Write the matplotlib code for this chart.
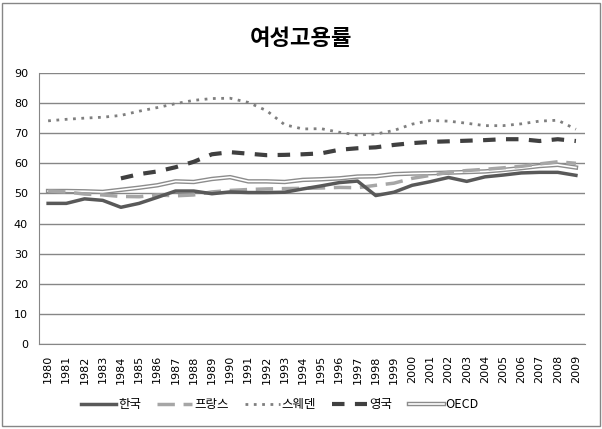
import matplotlib
matplotlib.use("Agg")
import matplotlib.pyplot as plt
from matplotlib.patches import Rectangle
from matplotlib.lines import Line2D
import numpy as np

plt.rcParams['font.family'] = ['Noto Sans CJK KR', 'DejaVu Sans']

years = [str(y) for y in range(1980, 2010)]

korea = [46.7, 46.7, 48.2, 47.7, 45.4, 46.7, 48.7, 50.8, 50.8, 49.9,
         50.5, 50.3, 50.3, 50.4, 51.5, 52.5, 53.6, 54.1, 49.3, 50.4,
         52.7, 53.9, 55.3, 54.0, 55.5, 56.1, 56.8, 57.0, 57.0, 56.0]
france = [50.8, 50.5, 49.8, 49.5, 49.0, 48.9, 49.5, 49.2, 49.5, 50.5,
          51.0, 51.3, 51.5, 51.6, 51.7, 51.8, 52.0, 51.9, 52.7, 53.4,
          55.0, 56.0, 57.0, 57.6, 58.0, 58.5, 59.0, 59.8, 60.5, 60.0]
sweden = [74.1, 74.6, 75.0, 75.3, 75.9, 77.3, 78.5, 79.8, 80.9, 81.5,
          81.6, 80.2, 77.5, 72.8, 71.4, 71.5, 70.3, 69.4, 69.7, 70.9,
          73.0, 74.2, 74.0, 73.3, 72.5, 72.5, 73.1, 74.0, 74.3, 71.3]
uk = [None, None, None, None, 55.0, 56.4, 57.3, 58.7, 60.5, 63.0,
      63.7, 63.2, 62.7, 62.8, 63.0, 63.3, 64.5, 65.0, 65.3, 66.1,
      66.7, 67.1, 67.3, 67.5, 67.7, 68.0, 68.0, 67.4, 68.0, 67.4]
oecd = [50.8, 50.8, 50.7, 50.5, 51.2, 51.9, 52.7, 54.0, 53.8, 54.8,
        55.4, 54.0, 54.0, 53.8, 54.5, 54.7, 55.0, 55.6, 55.7, 56.4,
        56.6, 56.7, 56.9, 57.1, 57.3, 57.8, 58.4, 59.1, 59.5, 58.6]

yticks = list(range(0, 91, 10))

fig = plt.figure(figsize=(6.02, 4.29), dpi=100)
ax = fig.add_axes([0.0648, 0.198, 0.907, 0.632])

x = np.arange(len(years))
uk_arr = np.array([np.nan if v is None else v for v in uk])

ax.plot(x, korea, color="#595959", lw=2.5, label="한국", zorder=4)
ax.plot(x, france, color="#a6a6a6", lw=2.5, dashes=(5, 2.5), label="프랑스", zorder=3)
ax.plot(x, sweden, color="#7f7f7f", lw=2, linestyle=(0, (1, 2)), label="스웨덴", zorder=3)
ax.plot(x, uk_arr, color="#404040", lw=3, dashes=(3, 2.5), label="영국", zorder=3)
ax.plot(x, oecd, color="#8c8c8c", lw=3.2, zorder=2)
ax.plot(x, oecd, color="white", lw=1.2, zorder=2)

# double line in the legend
h, l = ax.get_legend_handles_labels()
h.append((Line2D([], [], color="#8c8c8c", lw=3.2), Line2D([], [], color="white", lw=1.2)))
l.append("OECD")

ax.set_xlim(-0.5, len(years) - 0.5)
ax.set_ylim(0, 90)
ax.set_yticks(yticks)
ax.set_xticks(x)
ax.set_xticklabels(years, rotation=90, fontsize=8, family="DejaVu Sans")
ax.set_yticklabels([str(v) for v in yticks], fontsize=8, family="DejaVu Sans")
ax.tick_params(length=0, pad=8)
ax.yaxis.grid(True, color="#868686", lw=1)
ax.set_axisbelow(True)
for s in ["top", "right"]:
    ax.spines[s].set_visible(False)
ax.spines["left"].set_color("#868686")
ax.spines["bottom"].set_color("#868686")

fig.text(0.5, 0.911, "여성고용률", ha="center", va="center", fontsize=16, fontweight="bold")

fig.legend(h, l, loc="center", bbox_to_anchor=(0.465, 0.056), ncol=5, frameon=False,
           fontsize=9, handlelength=2.8, columnspacing=1.3, handletextpad=0.15)

fig.patches.append(Rectangle((0.004, 0.006), 0.992, 0.988, transform=fig.transFigure,
                             fill=False, edgecolor="#868686", lw=1))

fig.savefig("out.png", dpi=100)
